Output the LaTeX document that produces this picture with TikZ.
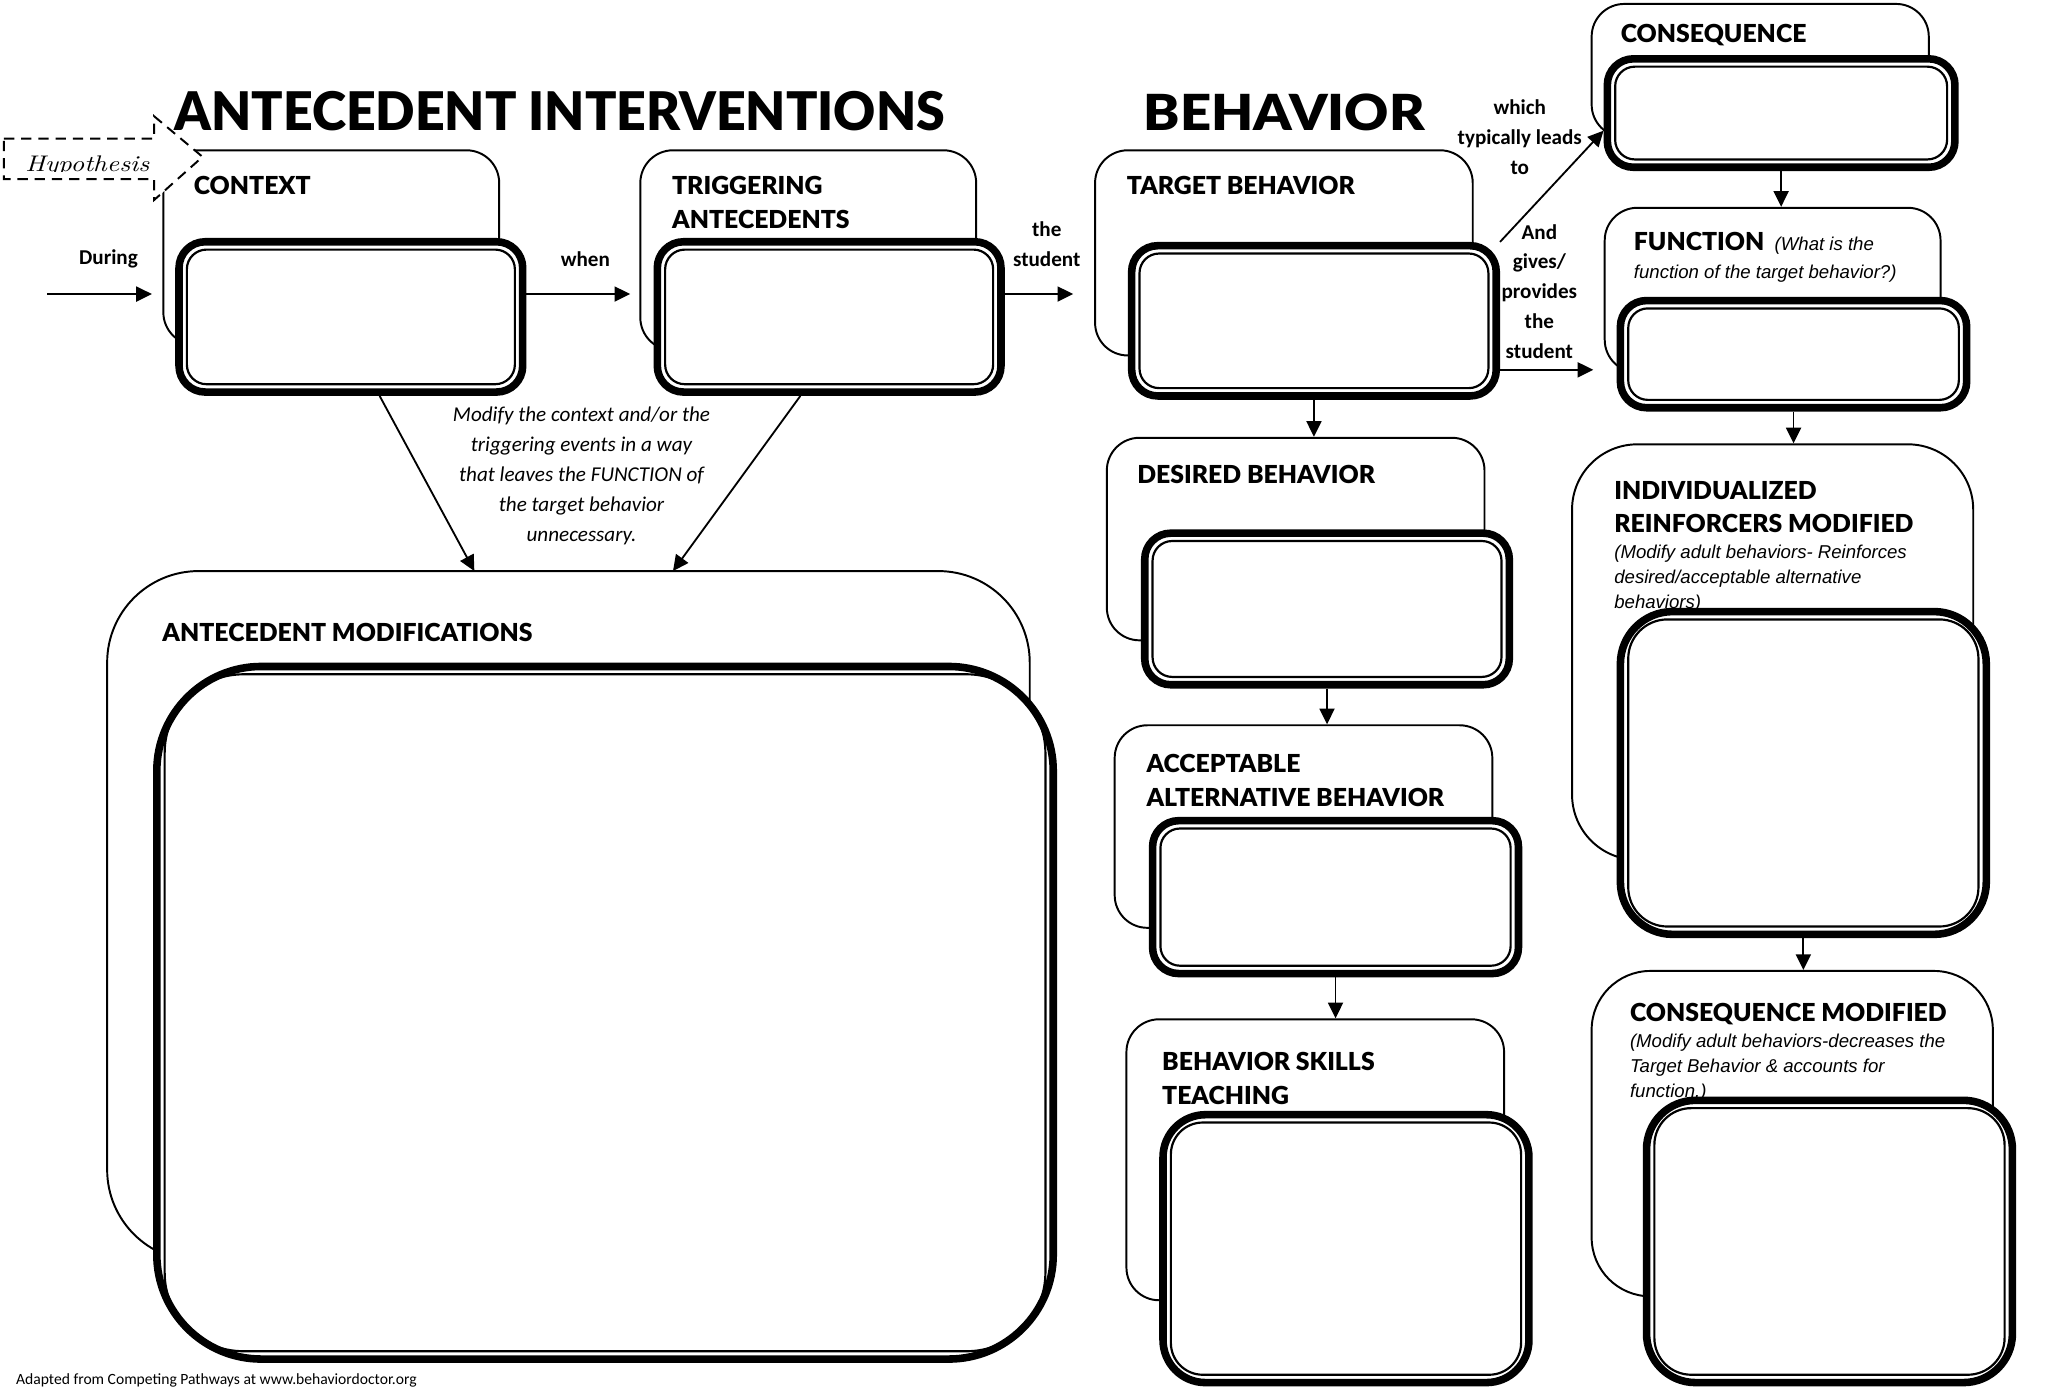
\documentclass[tikz,border=0pt]{standalone}
\usepackage{fontspec}
\usepackage{graphicx}
\newfontfamily\arialfont{Liberation Sans}
\IfFontExistsTF{Lato Black}{\newfontfamily\blackfont{Lato Black}}{\newfontfamily\blackfont{Liberation Sans Bold}}
\newfontfamily\calfont{Carlito}
\usetikzlibrary{fit,arrows.meta}

\tikzset{
  outerbox/.style={draw, line width=0.85pt, rounded corners=#1, fill=white, inner sep=0pt},
  outerbox/.default=0.5cm,
  slotbox/.style={draw, line width=3.3pt, rounded corners=#1, fill=white, inner sep=0pt,
    path picture={\draw[line width=0.95pt, rounded corners=0.75*#1]
      ([shift={(0.12cm,0.12cm)}]path picture bounding box.south west) rectangle
      ([shift={(-0.12cm,-0.12cm)}]path picture bounding box.north east);}},
  slotbox/.default=0.4cm,
  hdr/.style={font=\blackfont\fontsize{10.8}{14.7}\selectfont, anchor=west, inner sep=0pt, align=left},
  boxnote/.style={font=\arialfont\itshape\fontsize{8.1}{10.8}\selectfont, anchor=west, inner sep=0pt, align=left},
  linkword/.style={font=\calfont\bfseries\fontsize{9.2}{13}\selectfont, inner sep=0pt, align=center},
  flow/.style={-{Triangle[length=0.24cm,width=0.23cm]}, line width=0.8pt},
}

\begin{document}
\begin{tikzpicture}[x=0.02cm, y=-0.02cm]
\useasboundingbox (0,0) rectangle (1568,1063);
% titles
\node[anchor=west, inner sep=0pt] (antitle) at (133,85) {\resizebox{11.8cm}{0.6cm}{\blackfont ANTECEDENT INTERVENTIONS}};
\node[anchor=west, inner sep=0pt] (behtitle) at (875,86) {\resizebox{4.3cm}{0.56cm}{\blackfont BEHAVIOR}};
% outer (label) boxes
\node[outerbox, fit={(125,115) (382,264)}] (ctxout) {};
\node[outerbox, fit={(490,115) (747,268)}] (trigout) {};
\node[outerbox, fit={(838,115) (1127,272)}] (tgtout) {};
\node[outerbox, fit={(1218,3) (1476,105)}] (conout) {};
\node[outerbox, fit={(1228,159) (1485,285)}] (funout) {};
\node[outerbox=1cm, fit={(1203,340) (1510,658)}] (reinout) {};
\node[outerbox=0.9cm, fit={(1218,743) (1525,992)}] (cmodout) {};
\node[outerbox, fit={(847,335) (1136,490)}] (desout) {};
\node[outerbox, fit={(853,555) (1142,710)}] (altout) {};
\node[outerbox, fit={(862,780) (1151,995)}] (skillout) {};
\node[outerbox=1.4cm, fit={(82,437) (788,965)}] (amodout) {};
% slots to write in
\node[slotbox, fit={(137,185) (400,300)}] (ctx) {};
\node[slotbox, fit={(503,185) (766,300)}] (trig) {};
\node[slotbox, fit={(866,188) (1145,303)}] (tgt) {};
\node[slotbox, fit={(1230,45) (1496,128)}] (con) {};
\node[slotbox, fit={(1240,230) (1505,312)}] (fun) {};
\node[slotbox=0.8cm, fit={(1240,468) (1520,715)}] (rein) {};
\node[slotbox=0.75cm, fit={(1260,842) (1540,1058)}] (cmod) {};
\node[slotbox, fit={(876,408) (1155,524)}] (des) {};
\node[slotbox, fit={(882,628) (1162,745)}] (alt) {};
\node[slotbox=0.65cm, fit={(890,853) (1170,1058)}] (skill) {};
\node[slotbox=1.6cm, fit={(120,510) (806,1040)}] (amod) {};
% hypothesis tag
\draw[dash pattern=on 4.5pt off 3pt, line width=0.85pt, fill=white] (3,106) -- (118,106) -- (118,89) -- (155,120) -- (118,153) -- (118,137) -- (3,137) -- cycle;
\begin{scope}
\clip (3,106) rectangle (118,131);
\node[anchor=base west, inner sep=0pt] (hyp) at (19,131) {\resizebox{1.9cm}{0.24cm}{\itshape Hypothesis}};
\end{scope}
% headings
\node[hdr] (ctxhd) at (148,142) {CONTEXT};
\node[hdr] (trighd) at (514,155) {TRIGGERING\\ANTECEDENTS};
\node[hdr] (tgthd) at (862,142) {TARGET BEHAVIOR};
\node[hdr] (conhd) at (1240,27) {CONSEQUENCE};
\node[hdr, font=\arialfont\itshape\fontsize{8.1}{12.5}\selectfont] (funhd) at (1250,197)
  {{\blackfont\upshape\fontsize{10.8}{12.5}\selectfont FUNCTION} \ (What is the\\function of the target behavior?)};
\node[hdr] (reinhd) at (1235,388) {INDIVIDUALIZED\\REINFORCERS MODIFIED};
\node[boxnote] (reinnt) at (1235,443) {(Modify adult behaviors- Reinforces\\desired/acceptable alternative\\behaviors)};
\node[hdr] (cmodhd) at (1247,776) {CONSEQUENCE MODIFIED};
\node[boxnote] (cmodnt) at (1247,817) {(Modify adult behaviors-decreases the\\Target Behavior \& accounts for\\function.)};
\node[hdr] (deshd) at (870,363) {DESIRED BEHAVIOR};
\node[hdr] (althd) at (877,597) {ACCEPTABLE\\ALTERNATIVE BEHAVIOR};
\node[hdr] (skillhd) at (889,825) {BEHAVIOR SKILLS\\TEACHING};
\node[hdr] (amodhd) at (124,484) {ANTECEDENT MODIFICATIONS};
% words on the arrows
\node[linkword] (during) at (83,198) {During};
\node[linkword] (when) at (448,198) {when};
\node[linkword] (thestu) at (801,187) {the\\student};
\node[linkword] (leads) at (1163,105) {which\\typically leads\\to};
\node[linkword] (gives) at (1178,223) {And\\gives/\\provides\\the\\student};
\node[font=\calfont\itshape\fontsize{9.2}{13}\selectfont, align=center, inner sep=0pt] (modnote) at (445,364)
  {Modify the context and/or the\\triggering events in a way\\that leaves the FUNCTION of\\the target behavior\\unnecessary.};
\node[anchor=west, font=\calfont\fontsize{6.8}{8}\selectfont, inner sep=0pt] (credit) at (12,1056) {Adapted from Competing Pathways at www.behaviordoctor.org};
% arrows
\coordinate (rowin) at (36,225);
\draw[flow, shorten >=0.16cm] (rowin) -- (ctxout.west |- rowin);
\draw[flow, shorten >=0.14cm] (ctx.east |- rowin) -- (trigout.west |- rowin);
\draw[flow, shorten >=0.32cm] (trig.east |- rowin) -- (tgtout.west |- rowin);
\draw[flow] (tgt.north east) -- (con.west |- 0,100);
\draw[flow, shorten >=0.16cm] (tgt.east |- 0,283) -- (funout.west |- 0,283);
\draw[flow] (tgt.south) -- (tgt.south |- desout.north);
\draw[flow] (des.south) -- (des.south |- altout.north);
\draw[flow] (alt.south) -- (alt.south |- skillout.north);
\draw[flow] (con.south) -- (con.south |- funout.north);
\draw[flow] (fun.south) -- (fun.south |- reinout.north);
\draw[flow] (rein.south) -- (rein.south |- cmodout.north);
\coordinate (modl) at (363,437);
\coordinate (modr) at (515,437);
\draw[flow] (ctx.-70) -- (modl);
\draw[flow] (trig.-110) -- (modr);
\end{tikzpicture}
\end{document}
